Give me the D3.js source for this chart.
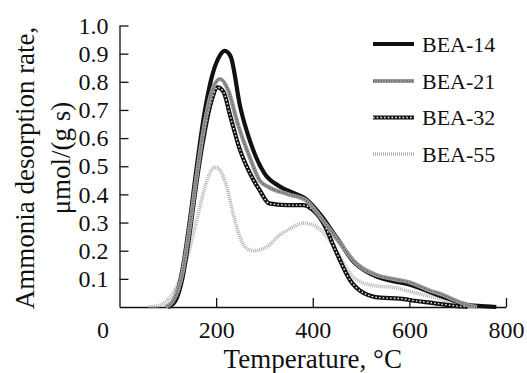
<!DOCTYPE html>
<html>
<head>
<meta charset="utf-8">
<script src="https://cdn.jsdelivr.net/npm/d3@7/dist/d3.min.js"></script>
<style>
  body { margin: 0; background: #fff; }
</style>
</head>
<body>
<div id="chart"></div>
<script>
// Temperature (°C) / desorption rate values
const bea14T = [100, 115, 130, 145, 160, 175, 190, 205, 218, 230, 250, 270, 300, 330, 360, 385, 415, 450, 485, 520, 560, 600, 640, 680, 720, 760, 780];
const bea14V = [0, 0.03, 0.13, 0.3, 0.5, 0.68, 0.81, 0.885, 0.91, 0.89, 0.71, 0.59, 0.475, 0.43, 0.405, 0.385, 0.33, 0.245, 0.16, 0.118, 0.094, 0.08, 0.055, 0.03, 0.008, 0.002, 0];

const bea21T = [95, 110, 130, 145, 160, 175, 190, 208, 225, 245, 270, 290, 310, 350, 385, 420, 455, 490, 530, 575, 600, 640, 670, 700, 720, 740];
const bea21V = [0, 0.02, 0.12, 0.28, 0.47, 0.64, 0.76, 0.81, 0.77, 0.65, 0.53, 0.45, 0.425, 0.4, 0.38, 0.31, 0.23, 0.155, 0.115, 0.097, 0.088, 0.06, 0.043, 0.02, 0.007, 0];

const bea32T = [100, 115, 130, 145, 160, 175, 190, 203, 215, 229, 249, 270, 290, 310, 345, 380, 400, 422, 450, 477, 505, 540, 580, 600, 650, 700, 720];
const bea32V = [0, 0.02, 0.1, 0.26, 0.45, 0.61, 0.73, 0.78, 0.765, 0.68, 0.56, 0.475, 0.415, 0.368, 0.362, 0.362, 0.345, 0.298, 0.19, 0.096, 0.05, 0.033, 0.03, 0.025, 0.014, 0.003, 0];

const bea55T = [60, 80, 100, 118, 139, 160, 177, 190, 198, 210, 222, 235, 249, 262, 277, 305, 332, 355, 380, 400, 429, 456, 483, 520, 575, 600, 657, 705, 730];
const bea55V = [0, 0.005, 0.025, 0.072, 0.167, 0.31, 0.427, 0.485, 0.497, 0.48, 0.427, 0.333, 0.25, 0.21, 0.2, 0.214, 0.256, 0.28, 0.298, 0.292, 0.25, 0.179, 0.108, 0.078, 0.067, 0.055, 0.032, 0.007, 0];

const seriesNames = ['BEA-14', 'BEA-21', 'BEA-32', 'BEA-55'];
const xTicks = [0, 200, 400, 600, 800];
const yTicks = [0.1, 0.2, 0.3, 0.4, 0.5, 0.6, 0.7, 0.8, 0.9, 1.0];

const FONT = "'Liberation Serif', 'DejaVu Serif', serif";
const margin = { top: 25.5, right: 21, bottom: 66, left: 119.5 };
const W = 527, H = 373;
const width = W - margin.left - margin.right;
const height = H - margin.top - margin.bottom;

const svg = d3.select('#chart').append('svg').attr('width', W).attr('height', H);
const g = svg.append('g').attr('transform', 'translate(' + margin.left + ',' + margin.top + ')');

const x = d3.scaleLinear().domain([0, 800]).range([0, width]);
const y = d3.scaleLinear().domain([0, 1]).range([height, 0]);

// Axes (ticks point inward)
const xAxis = d3.axisBottom(x).tickValues(xTicks).tickFormat(d3.format('d')).tickSizeInner(-9).tickSizeOuter(0).tickPadding(14);
const yAxis = d3.axisLeft(y).tickValues(yTicks).tickFormat(d3.format('.1f')).tickSizeInner(-9).tickSizeOuter(0).tickPadding(11);

const gx = g.append('g').attr('transform', 'translate(0,' + height + ')').call(xAxis);
const gy = g.append('g').call(yAxis);
[gx, gy].forEach(a => {
  a.attr('font-family', null).attr('font-size', null);
  a.select('.domain').attr('stroke', '#111').attr('stroke-width', 1.3);
  a.selectAll('.tick line').attr('stroke', '#111').attr('stroke-width', 1.3);
  a.selectAll('.tick text').style('font-family', FONT).style('font-size', '24px').attr('fill', '#111');
});
gx.selectAll('.tick').filter(d => d === 0).select('text').attr('x', -17);
// the tick at 0 sits on the y axis
gx.selectAll('.tick').filter(d => d === 0).select('line').remove();

// Line generator
const line = d3.line().x(d => x(d[0])).y(d => y(d[1])).curve(d3.curveMonotoneX);
const zip = (t, v) => t.map((tt, i) => [tt, v[i]]);

const plot = g.append('g');

// each series is drawn as layered strokes
const styles = {
  'BEA-14': [{ stroke: '#111', w: 4.2 }],
  'BEA-21': [{ stroke: '#9a9a9a', w: 4.2 }, { stroke: '#555', w: 1.6, dash: '1,1.6' }],
  'BEA-32': [{ stroke: '#111', w: 4.2 }, { stroke: '#fff', w: 1.3, dash: '1.5,2.2' }],
  'BEA-55': [{ stroke: '#b0b0b0', w: 3.6, dash: '1,1' }]
};
const dataMap = {
  'BEA-14': zip(bea14T, bea14V),
  'BEA-21': zip(bea21T, bea21V),
  'BEA-32': zip(bea32T, bea32V),
  'BEA-55': zip(bea55T, bea55V)
};

const drawOrder = ['BEA-55', 'BEA-32', 'BEA-14', 'BEA-21'];
drawOrder.forEach(name => {
  styles[name].forEach(s => {
    plot.append('path')
      .datum(dataMap[name])
      .attr('d', line)
      .attr('fill', 'none')
      .attr('stroke', s.stroke)
      .attr('stroke-width', s.w)
      .attr('stroke-dasharray', s.dash || null)
      .attr('stroke-linejoin', 'round');
  });
});

// Legend
const legendRows = [44, 81, 117.5, 154];
const legend = svg.append('g');
seriesNames.forEach((name, i) => {
  const ly = legendRows[i];
  styles[name].forEach(s => {
    legend.append('line')
      .attr('x1', 373).attr('x2', 414).attr('y1', ly).attr('y2', ly)
      .attr('stroke', s.stroke).attr('stroke-width', s.w)
      .attr('stroke-dasharray', s.dash || null);
  });
  legend.append('text')
    .attr('x', 422).attr('y', ly).attr('dy', '0.35em')
    .style('font-family', FONT).style('font-size', '22px').attr('fill', '#111')
    .text(name);
});

// Axis titles
const title = (tx, txt) => svg.append('text')
  .attr('transform', tx)
  .attr('text-anchor', 'middle')
  .style('font-family', FONT).style('font-size', '27px').attr('fill', '#111')
  .text(txt);
title('translate(' + (margin.left + x(400)) + ',367.5)', 'Temperature, °C');
title('translate(34,168) rotate(-90)', 'Ammonia desorption rate,');
title('translate(70,158) rotate(-90)', 'μmol/(g s)');
</script>
</body>
</html>
